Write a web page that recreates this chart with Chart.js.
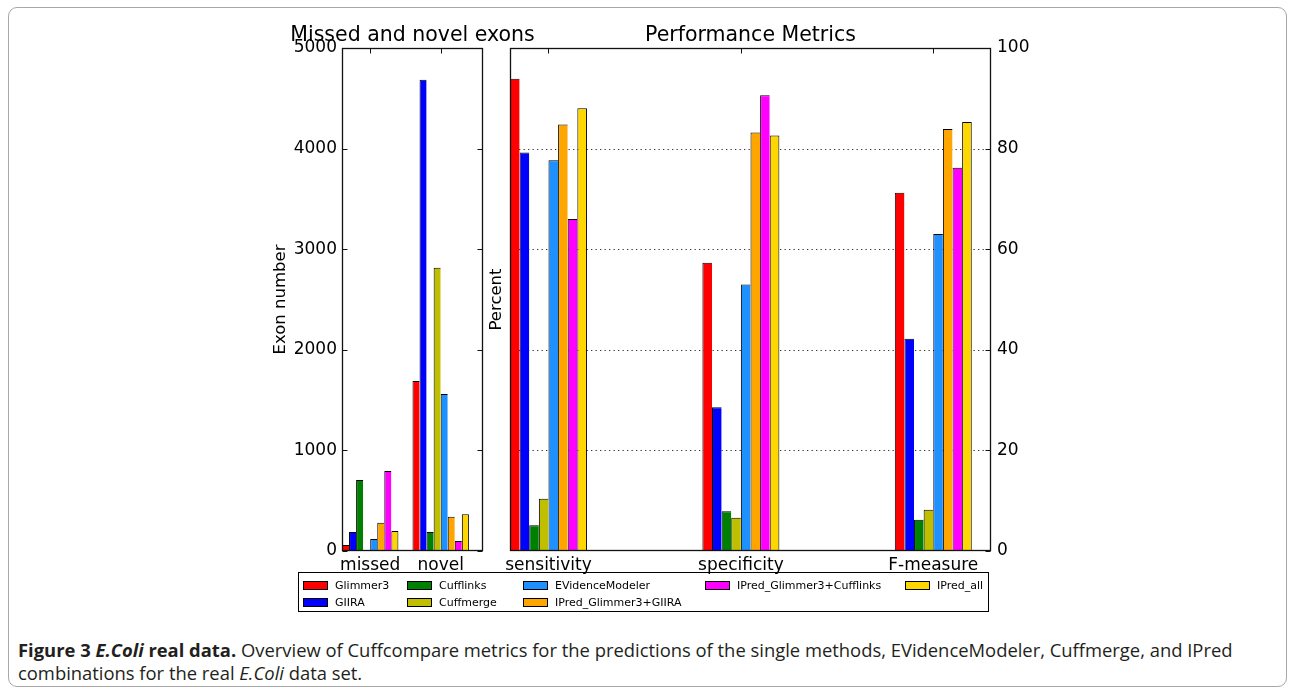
<!DOCTYPE html>
<html>
<head>
<meta charset="utf-8">
<title>E.Coli real data</title>
<script src="https://cdn.jsdelivr.net/npm/chart.js@4.4.1/dist/chart.umd.min.js"></script>
<style>
  html, body { margin: 0; padding: 0; background: #fff; }
  body { width: 1294px; height: 688px; position: relative; overflow: hidden; font-family: "DejaVu Sans", sans-serif; }
  #frame { position: absolute; left: 8px; top: 7px; width: 1279px; height: 680px; border: 1px solid #a8a8a8; border-radius: 9px; box-sizing: border-box; }
  canvas { position: absolute; }
  #cLeft { left: 240px; top: 10px; }
  #cRight { left: 480px; top: 10px; }
  #legend { position: absolute; left: 298px; top: 572px; width: 691px; height: 40px; border: 1px solid #000; box-sizing: border-box; font-family: "DejaVu Sans"; font-size: 11px; color: #000; }
  .item { position: absolute; display: flex; align-items: center; height: 14px; white-space: nowrap; }
  .patch { width: 25px; height: 9px; border: 1px solid #000; box-sizing: border-box; margin-right: 7px; flex: none; }
  #caption { position: absolute; left: 18px; top: 638px; font-family: "Open Sans"; font-size: 18.4px; line-height: 23px; color: #231f20; white-space: nowrap; }
  #caption b { font-weight: 700; }
</style>
</head>
<body>
<div id="frame"></div>
<canvas id="cLeft" width="330" height="570"></canvas>
<canvas id="cRight" width="580" height="570"></canvas>
<div id="legend"></div>
<div id="caption">
  <b>Figure 3 <i>E.Coli</i> real data.</b> Overview of Cuffcompare metrics for the predictions of the single methods, EVidenceModeler, Cuffmerge, and IPred<br>
  combinations for the real <i>E.Coli</i> data set.
</div>
<script>
// Methods compared (one bar per method in every group)
const methods = ['Glimmer3', 'GIIRA', 'Cufflinks', 'Cuffmerge', 'EVidenceModeler',
                 'IPred_Glimmer3+GIIRA', 'IPred_Glimmer3+Cufflinks', 'IPred_all'];
const methodColors = ['#ff0000', '#0000ff', '#008000', '#bfbf00', '#1e90ff',
                      '#ffa500', '#ff00ff', '#ffd700'];

// Left panel: exon counts
const exonGroups = ['missed', 'novel'];
const missedExons = [60, 190, 705, 10, 120, 280, 795, 200];
const novelExons = [1690, 4685, 190, 2815, 1560, 340, 100, 365];
const exonTicks = [0, 1000, 2000, 3000, 4000, 5000];

// Right panel: performance metrics (percent)
const metricGroups = ['sensitivity', 'specificity', 'F-measure'];
const sensitivity = [93.9, 79.2, 5.1, 10.4, 77.7, 84.8, 66.0, 88.0];
const specificity = [57.3, 28.6, 7.9, 6.6, 53.0, 83.2, 90.6, 82.6];
const fMeasure = [71.2, 42.2, 6.2, 8.2, 63.0, 83.9, 76.2, 85.3];
const percentTicks = [0, 20, 40, 60, 80, 100];

const FONT = 'DejaVu Sans';

// Frame, inward tick marks, dotted grid and panel title
const axisDecor = {
  id: 'axisDecor',
  beforeDatasetsDraw(chart, args, opts) {
    if (!opts.dottedGrid) return;
    const { ctx, chartArea: a } = chart;
    const y = chart.scales[opts.yId];
    ctx.save();
    ctx.strokeStyle = '#333';
    ctx.lineWidth = 1;
    ctx.setLineDash([1.3, 3.2]);
    y.ticks.forEach(t => {
      if (t.value <= y.min || t.value >= y.max) return;
      const py = Math.round(y.getPixelForValue(t.value)) + 0.5;
      ctx.beginPath();
      ctx.moveTo(a.left, py);
      ctx.lineTo(a.right, py);
      ctx.stroke();
    });
    ctx.restore();
  },
  afterDatasetsDraw(chart, args, opts) {
    const { ctx, chartArea: a } = chart;
    const x = chart.scales.x;
    const y = chart.scales[opts.yId];
    const L = Math.round(a.left) + 0.5, R = Math.round(a.right) - 0.5;
    const T = Math.round(a.top) + 0.5, B = Math.round(a.bottom) - 0.5;
    ctx.save();
    ctx.strokeStyle = '#111';
    ctx.lineWidth = 1;
    ctx.beginPath();
    x.ticks.forEach(t => {
      const px = Math.round(x.getPixelForValue(t.value)) + 0.5;
      ctx.moveTo(px, T); ctx.lineTo(px, T + 5);
    });
    y.ticks.forEach(t => {
      const py = Math.round(y.getPixelForValue(t.value)) + 0.5;
      if (opts.leftTicks) { ctx.moveTo(L, py); ctx.lineTo(L + 5, py); }
      ctx.moveTo(R, py); ctx.lineTo(R - 5, py);
    });
    ctx.stroke();
    ctx.lineWidth = 1.3;
    ctx.strokeRect(L, T, R - L, B - T);
    ctx.restore();
  },
  afterDraw(chart, args, opts) {
    const { ctx, chartArea: a } = chart;
    ctx.save();
    ctx.fillStyle = '#000';
    ctx.font = `20.5px "${FONT}"`;
    ctx.textAlign = 'center';
    ctx.textBaseline = 'alphabetic';
    ctx.fillText(opts.title, (a.left + a.right) / 2, a.top - 7.5);
    ctx.restore();
  }
};

function makeDatasets(groupValues, groupOffset) {
  return methods.map((name, m) => ({
    label: name,
    data: groupValues.map((vals, g) => ({ x: g + groupOffset, y: vals[m] })),
    backgroundColor: methodColors[m],
    borderColor: '#000',
    borderWidth: { left: 1, top: 1, right: m === methods.length - 1 ? 1 : 0, bottom: 0 },
    borderSkipped: false,
    inflateAmount: 0,
    xAxisID: 'x',
    yAxisID: 'y'
  }));
}

const tickFont = { family: FONT, size: 17 };
const titleFont = { family: FONT, size: 16.5 };

function groupAxis(labels, offset, max) {
  return {
    type: 'linear', min: 0, max: max, offset: false,
    afterBuildTicks: s => { s.ticks = labels.map((_, i) => ({ value: i + offset })); },
    afterFit: s => { s.height = 29; },
    ticks: { autoSkip: false, maxRotation: 0, minRotation: 0, padding: 4, color: '#000', font: tickFont,
             callback: (v, i) => labels[i] },
    grid: { display: false, drawTicks: false },
    border: { display: false }
  };
}

// Missed and novel exons
new Chart(document.getElementById('cLeft'), {
  type: 'bar',
  data: { datasets: makeDatasets([missedExons, novelExons], 0.4) },
  options: {
    responsive: false, animation: false, events: [],
    categoryPercentage: 0.8, barPercentage: 1,
    layout: { padding: { top: 38, right: 87, left: 0, bottom: 0 } },
    plugins: {
      legend: { display: false }, tooltip: { enabled: false }, title: { display: false },
      axisDecor: { title: 'Missed and novel exons', yId: 'y', leftTicks: true, dottedGrid: false }
    },
    scales: {
      x: groupAxis(exonGroups, 0.4, 2),
      y: {
        position: 'left', min: 0, max: 5000,
        afterBuildTicks: s => { s.ticks = exonTicks.map(v => ({ value: v })); },
        afterFit: s => { s.width = 102; },
        ticks: { padding: 5, color: '#000', font: tickFont, callback: v => String(v) },
        grid: { display: false, drawTicks: false },
        border: { display: false },
        title: { display: true, text: 'Exon number', color: '#000', font: titleFont, padding: { top: 31, bottom: 0 } }
      }
    }
  },
  plugins: [axisDecor]
});

// Performance metrics
new Chart(document.getElementById('cRight'), {
  type: 'bar',
  data: { datasets: makeDatasets([sensitivity, specificity, fMeasure], 0.2) },
  options: {
    responsive: false, animation: false, events: [],
    categoryPercentage: 0.4, barPercentage: 1,
    layout: { padding: { top: 38, right: 0, left: 0, bottom: 0 } },
    plugins: {
      legend: { display: false }, tooltip: { enabled: false }, title: { display: false },
      axisDecor: { title: 'Performance Metrics', yId: 'y', leftTicks: false, dottedGrid: true }
    },
    scales: {
      x: groupAxis(metricGroups, 0.2, 2.5),
      yL: {
        position: 'left', min: 0, max: 100,
        afterFit: s => { s.width = 30; },
        ticks: { display: false },
        grid: { display: false, drawTicks: false },
        border: { display: false },
        title: { display: true, text: 'Percent', color: '#000', font: titleFont, padding: { top: 7, bottom: 0 } }
      },
      y: {
        position: 'right', min: 0, max: 100,
        afterBuildTicks: s => { s.ticks = percentTicks.map(v => ({ value: v })); },
        afterFit: s => { s.width = 69; },
        ticks: { padding: 6, color: '#000', font: tickFont, callback: v => String(v) },
        grid: { display: false, drawTicks: false },
        border: { display: false }
      }
    }
  },
  plugins: [axisDecor]
});

// Legend: 5 columns; the first three hold two entries, the last two hold one
const legend = document.getElementById('legend');
const legendColumns = [[0, 1], [2, 3], [4, 5], [6], [7]];
const colLeft = [4, 108, 224, 406, 606];
const rowTop = [5, 22];
legendColumns.forEach((members, col) => {
  members.forEach((i, row) => {
    const item = document.createElement('div');
    item.className = 'item';
    item.style.left = colLeft[col] + 'px';
    item.style.top = rowTop[row] + 'px';
    const patch = document.createElement('span');
    patch.className = 'patch';
    patch.style.background = methodColors[i];
    const text = document.createElement('span');
    text.textContent = methods[i];
    item.appendChild(patch);
    item.appendChild(text);
    legend.appendChild(item);
  });
});
</script>
</body>
</html>
